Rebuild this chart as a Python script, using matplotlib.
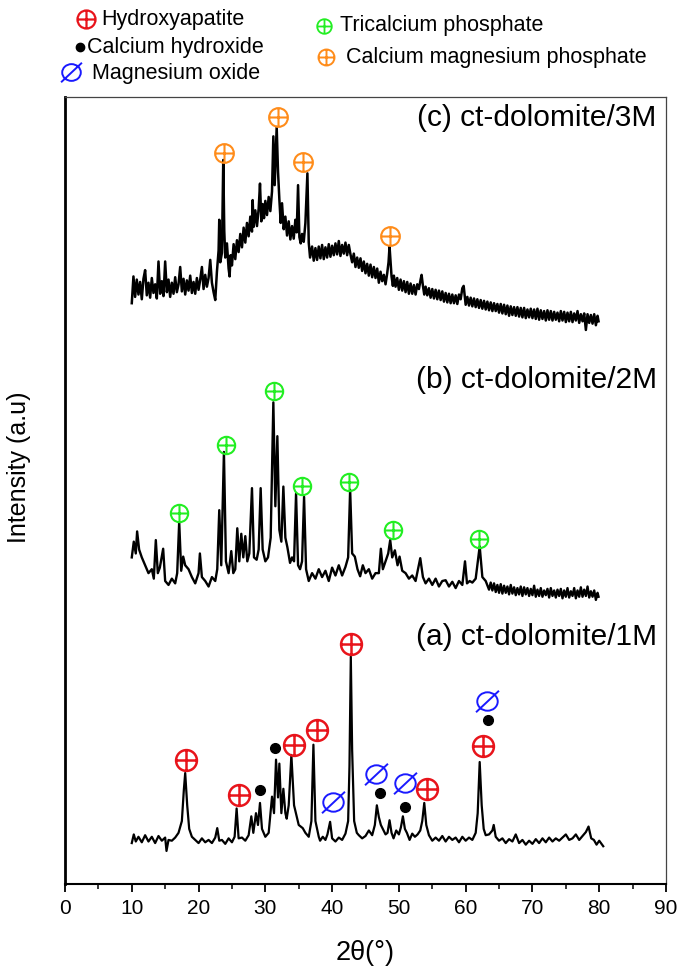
import matplotlib.pyplot as plt
from matplotlib.path import Path
from matplotlib.ticker import MultipleLocator

plt.rcParams['font.family'] = ['Liberation Sans', 'DejaVu Sans']

# ---- data (2theta in degrees, intensity in arbitrary units) ----
theta_c = [10.0, 10.25, 10.5, 10.75, 11.0, 11.25, 11.5, 11.75, 12.0, 12.25, 12.5, 12.75, 13.0, 13.25,
           13.5, 13.75, 14.0, 14.25, 14.5, 14.75, 15.0, 15.25, 15.5, 15.75, 16.0, 16.25, 16.5, 16.75,
           17.0, 17.25, 17.5, 17.75, 18.0, 18.25, 18.5, 18.75, 19.0, 19.25, 19.5, 19.75, 20.0, 20.25,
           20.5, 20.75, 21.0, 21.25, 21.5, 21.75, 22.0, 22.25, 22.5, 22.75, 23.0, 23.1, 23.25, 23.5,
           23.7, 23.85, 24.0, 24.25, 24.5, 24.65, 24.8, 25.0, 25.25, 25.5, 25.75, 26.0, 26.25, 26.5,
           26.75, 27.0, 27.25, 27.5, 27.75, 28.0, 28.1, 28.25, 28.5, 28.75, 29.0, 29.2, 29.4, 29.6,
           29.8, 30.0, 30.25, 30.5, 30.75, 31.0, 31.2, 31.4, 31.7, 31.9, 32.1, 32.3, 32.5, 32.75,
           33.0, 33.25, 33.5, 33.75, 34.0, 34.25, 34.5, 34.7, 34.9, 35.1, 35.3, 35.5, 35.75, 36.0,
           36.3, 36.5, 36.7, 37.0, 37.25, 37.5, 37.75, 38.0, 38.25, 38.5, 38.75, 39.0, 39.25, 39.5,
           39.75, 40.0, 40.25, 40.5, 40.75, 41.0, 41.25, 41.5, 41.75, 42.0, 42.25, 42.5, 42.75, 43.0,
           43.25, 43.5, 43.75, 44.0, 44.25, 44.5, 44.75, 45.0, 45.25, 45.5, 45.75, 46.0, 46.25, 46.5,
           46.75, 47.0, 47.25, 47.5, 47.75, 48.0, 48.25, 48.45, 48.6, 48.75, 48.9, 49.1, 49.25, 49.5,
           49.75, 50.0, 50.25, 50.5, 50.75, 51.0, 51.25, 51.5, 51.75, 52.0, 52.25, 52.5, 52.75, 53.0,
           53.25, 53.4, 53.6, 53.8, 54.0, 54.25, 54.5, 54.75, 55.0, 55.25, 55.5, 55.75, 56.0, 56.25,
           56.5, 56.75, 57.0, 57.25, 57.5, 57.75, 58.0, 58.25, 58.5, 58.75, 59.0, 59.25, 59.5, 59.7,
           59.9, 60.0, 60.25, 60.5, 60.75, 61.0, 61.25, 61.5, 61.75, 62.0, 62.25, 62.5, 62.75, 63.0,
           63.25, 63.5, 63.75, 64.0, 64.25, 64.5, 64.75, 65.0, 65.25, 65.5, 65.75, 66.0, 66.25, 66.5,
           66.75, 67.0, 67.25, 67.5, 67.75, 68.0, 68.25, 68.5, 68.75, 69.0, 69.25, 69.5, 69.75, 70.0,
           70.25, 70.5, 70.75, 71.0, 71.25, 71.5, 71.75, 72.0, 72.25, 72.5, 72.75, 73.0, 73.25, 73.5,
           73.75, 74.0, 74.25, 74.5, 74.75, 75.0, 75.25, 75.5, 75.75, 76.0, 76.25, 76.5, 76.75, 77.0,
           77.25, 77.5, 77.75, 78.0, 78.25, 78.5, 78.75, 79.0, 79.25, 79.5, 79.75, 79.9]
int_c = [73.8, 77.2, 74.6, 76.8, 74.9, 76.5, 74.3, 76.9, 78.0, 74.8, 76.4, 74.5, 77.0, 75.1,
         76.2, 74.4, 79.1, 75.0, 76.6, 74.7, 79.1, 75.2, 76.8, 74.6, 76.4, 75.0, 77.1, 75.2,
         76.2, 78.4, 75.3, 76.9, 74.9, 76.7, 75.4, 77.3, 75.1, 76.5, 75.0, 77.0, 75.5, 76.8,
         78.4, 75.6, 77.4, 75.9, 77.0, 79.3, 76.4, 75.2, 74.2, 77.8, 80.5, 84.4, 79.0, 80.2,
         92.0, 83.0, 79.6, 81.4, 78.2, 77.2, 79.9, 78.6, 81.3, 79.4, 81.8, 80.3, 82.6, 80.9,
         83.4, 81.5, 84.0, 82.3, 84.8, 82.9, 86.9, 83.5, 85.6, 83.6, 85.8, 89.0, 84.2, 86.4,
         84.6, 86.8, 85.0, 87.3, 85.5, 88.0, 95.0, 88.8, 96.2, 90.5, 87.0, 84.0, 86.5, 83.2,
         84.8, 82.4, 84.2, 81.9, 83.6, 82.0, 84.4, 82.8, 88.8, 82.2, 81.4, 82.6, 81.6, 84.0,
         90.3, 81.5, 79.6, 81.0, 79.2, 80.8, 79.3, 81.0, 79.5, 81.2, 79.4, 80.9, 79.6, 81.3,
         79.7, 81.1, 79.9, 81.4, 80.0, 81.7, 79.8, 81.2, 80.1, 81.5, 79.9, 81.2, 80.0, 79.0,
         80.1, 78.4, 79.6, 78.3, 79.5, 77.9, 79.1, 77.6, 78.8, 77.3, 78.7, 77.1, 78.4, 77.0,
         78.2, 76.4, 77.8, 76.6, 77.4, 76.2, 77.6, 79.0, 81.0, 79.2, 77.2, 76.0, 77.3, 75.9,
         77.0, 75.5, 76.8, 75.4, 76.6, 75.2, 76.5, 75.0, 76.3, 75.0, 76.1, 74.9, 76.2, 75.6,
         76.8, 77.4, 76.0, 74.9, 75.9, 74.8, 75.7, 74.5, 75.6, 74.4, 75.5, 74.3, 75.4, 74.2,
         75.3, 74.0, 75.1, 73.9, 75.0, 73.8, 74.9, 73.8, 74.8, 73.7, 74.9, 74.3, 75.7, 76.0,
         74.4, 73.6, 74.6, 73.5, 74.5, 73.4, 74.4, 73.3, 74.3, 73.2, 74.2, 73.1, 74.1, 73.0,
         74.0, 72.9, 73.9, 72.8, 73.8, 72.8, 73.7, 72.6, 73.7, 72.5, 73.6, 72.4, 73.5, 72.2,
         73.4, 72.3, 73.3, 72.2, 73.3, 72.1, 73.2, 72.0, 73.2, 71.9, 73.0, 72.0, 73.1, 71.9,
         73.0, 71.8, 73.1, 71.7, 72.9, 71.8, 72.8, 71.6, 72.9, 71.7, 72.8, 71.6, 72.7, 71.7,
         72.6, 71.5, 72.8, 71.6, 72.7, 71.4, 72.6, 71.5, 72.7, 71.4, 72.5, 71.6, 72.8, 71.3,
         72.4, 71.5, 72.5, 70.4, 72.4, 71.3, 72.3, 71.2, 72.4, 71.0, 72.2, 71.5]

theta_b = [10.0, 10.3, 10.6, 10.8, 11.1, 11.5, 12.0, 12.5, 13.0, 13.3, 13.6, 13.9, 14.2, 14.7, 15.0,
           15.5, 16.0, 16.5, 16.8, 17.1, 17.4, 17.7, 18.0, 18.5, 19.0, 19.5, 20.0, 20.2, 20.5, 21.0,
           21.5, 22.0, 22.5, 22.8, 23.1, 23.4, 23.8, 24.1, 24.5, 24.9, 25.2, 25.5, 25.8, 26.1, 26.4,
           26.7, 27.0, 27.3, 27.6, 28.0, 28.3, 28.7, 29.0, 29.3, 29.6, 30.0, 30.4, 30.8, 31.2, 31.5,
           31.8, 32.1, 32.4, 32.7, 33.0, 33.3, 33.7, 34.0, 34.3, 34.6, 34.9, 35.2, 35.5, 35.8, 36.1,
           36.5, 37.0, 37.5, 38.0, 38.5, 39.0, 39.5, 40.0, 40.5, 41.0, 41.5, 42.0, 42.4, 42.7, 43.0,
           43.4, 43.8, 44.2, 44.6, 45.0, 45.5, 46.0, 46.5, 47.0, 47.3, 47.6, 48.0, 48.4, 48.7, 49.0,
           49.4, 49.8, 50.1, 50.5, 51.0, 51.5, 52.0, 52.5, 53.2, 53.6, 54.0, 54.5, 55.0, 55.5, 56.0,
           56.5, 57.0, 57.5, 58.0, 58.5, 59.0, 59.5, 59.9, 60.2, 60.6, 61.0, 61.5, 62.1, 62.5, 63.0,
           63.5, 63.75, 64.0, 64.25, 64.5, 64.75, 65.0, 65.25, 65.5, 65.75, 66.0, 66.25, 66.5, 66.75,
           67.0, 67.25, 67.5, 67.75, 68.0, 68.25, 68.5, 68.75, 69.0, 69.25, 69.5, 69.75, 70.0, 70.25,
           70.5, 70.75, 71.0, 71.25, 71.5, 71.75, 72.0, 72.25, 72.5, 72.75, 73.0, 73.25, 73.5, 73.75,
           74.0, 74.25, 74.5, 74.75, 75.0, 75.25, 75.5, 75.75, 76.0, 76.25, 76.5, 76.75, 77.0, 77.25,
           77.5, 77.75, 78.0, 78.25, 78.5, 78.75, 79.0, 79.25, 79.5, 79.75, 79.9]
int_b = [41.5, 43.5, 42.0, 44.8, 42.5, 41.5, 40.5, 39.5, 40.0, 38.8, 43.7, 39.5, 40.2, 42.6, 38.5,
         38.0, 38.8, 38.2, 39.5, 46.0, 39.8, 41.6, 40.5, 40.0, 39.0, 38.2, 39.5, 42.0, 39.0, 38.5,
         37.8, 39.0, 38.5, 40.0, 47.5, 40.5, 54.9, 41.0, 39.5, 42.3, 39.5, 40.0, 45.2, 41.0, 44.5,
         41.5, 44.2, 41.0, 42.0, 50.3, 41.5, 41.2, 42.5, 50.3, 42.5, 41.0, 41.5, 44.0, 61.2, 48.0,
         56.9, 45.0, 43.5, 50.5, 44.0, 42.8, 40.8, 41.5, 41.0, 49.6, 40.5, 40.0, 41.0, 49.2, 40.0,
         38.5, 39.5, 38.8, 40.0, 39.0, 39.8, 38.5, 40.2, 39.2, 40.5, 39.2, 40.3, 41.5, 50.1, 42.0,
         41.6, 40.0, 39.1, 40.5, 39.5, 40.0, 38.8, 39.5, 39.5, 42.6, 40.0, 41.0, 42.0, 43.7, 41.5,
         42.4, 40.5, 41.6, 39.8, 39.5, 38.8, 39.2, 38.5, 41.4, 39.0, 38.2, 38.8, 38.0, 38.8, 37.8,
         38.5, 38.6, 37.8, 38.4, 37.6, 38.5, 38.0, 41.0, 38.2, 38.5, 38.3, 38.8, 42.9, 39.0, 38.5,
         37.4, 38.3, 37.3, 38.2, 37.1, 38.0, 37.0, 38.1, 36.9, 37.9, 37.0, 37.8, 36.8, 38.0,
         36.9, 37.7, 36.7, 37.6, 36.8, 37.8, 36.6, 37.7, 36.8, 37.6, 36.6, 37.5, 36.7, 37.9,
         36.5, 37.4, 36.6, 37.6, 36.5, 37.3, 36.7, 37.5, 36.4, 37.6, 36.6, 37.3, 36.4, 37.4,
         36.6, 37.5, 36.3, 37.3, 36.5, 37.6, 36.4, 37.2, 36.6, 37.6, 36.3, 37.3, 36.5, 37.7,
         36.5, 37.4, 36.6, 37.8, 36.4, 37.2, 36.5, 37.3, 36.1, 37.0, 36.5]

theta_a = [10.0, 10.3, 10.6, 11.0, 11.5, 12.0, 12.5, 13.0, 13.5, 14.0, 14.5, 15.0, 15.2, 15.5, 16.0,
           16.5, 17.0, 17.5, 17.8, 18.0, 18.3, 18.6, 19.0, 19.5, 20.0, 20.5, 21.0, 21.5, 22.0, 22.5,
           22.8, 23.1, 23.5, 24.0, 24.5, 25.0, 25.4, 25.7, 26.0, 26.5, 27.0, 27.5, 27.9, 28.2, 28.6,
           28.9, 29.2, 29.5, 30.0, 30.5, 31.0, 31.3, 31.6, 31.9, 32.1, 32.4, 32.7, 33.0, 33.2, 33.5,
           33.9, 34.3, 34.7, 35.0, 35.6, 36.0, 36.5, 36.9, 37.2, 37.5, 38.0, 38.2, 38.6, 39.0, 39.3,
           39.7, 40.0, 40.5, 41.0, 41.5, 42.0, 42.4, 42.6, 42.8, 43.0, 43.3, 43.7, 44.0, 44.5, 45.0,
           45.5, 46.0, 46.4, 46.7, 47.0, 47.3, 47.7, 48.0, 48.3, 48.6, 48.9, 49.2, 49.6, 50.0, 50.3,
           50.6, 50.9, 51.2, 51.6, 52.0, 52.4, 52.8, 53.2, 53.5, 53.8, 54.1, 54.5, 55.0, 55.5, 56.0,
           56.5, 57.0, 57.5, 58.0, 58.5, 59.0, 59.5, 60.0, 60.5, 61.0, 61.5, 61.8, 62.1, 62.4, 62.7,
           63.0, 63.5, 64.0, 64.2, 64.5, 65.0, 65.5, 66.0, 66.5, 67.0, 67.5, 68.0, 68.5, 69.0, 69.5,
           70.0, 70.5, 71.0, 71.5, 72.0, 72.5, 73.0, 73.5, 74.0, 74.5, 75.0, 75.5, 76.0, 76.5, 77.0,
           77.5, 78.0, 78.4, 78.8, 79.2, 79.6, 80.0, 80.6]
int_a = [5.2, 6.3, 5.4, 6.0, 5.3, 6.2, 5.4, 6.0, 5.2, 6.1, 5.5, 5.9, 4.2, 5.6, 5.5,
         5.9, 6.5, 8.0, 12.0, 14.1, 10.0, 7.0, 6.0, 5.6, 5.2, 5.8, 5.3, 5.6, 5.2, 5.9,
         7.1, 5.5, 5.6, 5.1, 5.8, 5.3, 6.0, 9.6, 5.8, 5.9, 5.5, 6.2, 8.6, 6.5, 9.0,
         7.5, 10.3, 7.0, 6.0, 6.5, 11.1, 9.0, 15.8, 11.0, 15.3, 9.0, 12.1, 9.0, 8.3, 10.0,
         16.4, 10.0, 8.6, 7.5, 7.1, 6.5, 6.0, 8.0, 17.7, 8.0, 6.0, 5.5, 6.0, 5.6, 6.3,
         7.9, 5.8, 5.4, 5.9, 5.6, 6.4, 8.0, 15.0, 28.9, 17.0, 8.0, 6.5, 6.2, 5.8, 6.1,
         6.8, 6.2, 7.5, 10.0, 8.5, 7.5, 6.8, 6.3, 6.5, 8.1, 6.5, 5.8, 6.8, 6.3, 7.2,
         8.6, 7.0, 6.5, 5.6, 6.4, 6.0, 6.3, 6.8, 8.0, 10.3, 7.5, 6.2, 5.5, 5.9, 5.5,
         6.1, 5.4, 6.0, 5.6, 5.9, 5.3, 6.0, 5.5, 5.9, 5.6, 6.5, 9.0, 15.5, 10.0, 7.0,
         6.2, 6.3, 6.8, 7.5, 6.0, 5.5, 5.8, 5.2, 5.7, 5.4, 6.3, 5.2, 5.6, 5.0, 5.5,
         5.1, 5.7, 5.2, 5.8, 5.3, 5.9, 5.4, 5.8, 5.5, 5.9, 6.3, 5.6, 5.8, 6.3, 5.6,
         6.1, 6.6, 7.3, 5.8, 5.6, 5.0, 5.5, 4.8]

# phase markers (2theta, height of the symbol)
hap_x = [18.07, 26.06, 34.3, 37.7, 42.9, 54.2, 62.6]
hap_y = [15.8, 11.3, 17.7, 19.6, 30.5, 12.1, 17.5]
caoh_x = [29.2, 31.4, 47.1, 50.9, 63.4]
caoh_y = [12.0, 17.3, 11.5, 9.8, 20.8]
mgo_x = [40.2, 46.6, 50.9, 63.2]
mgo_y = [10.4, 14.0, 12.8, 23.3]
tcp_x = [17.1, 24.1, 31.3, 35.5, 42.5, 49.1, 62.0]
tcp_y = [47.2, 55.8, 62.6, 50.6, 51.1, 45.0, 43.9]
cmp_x = [23.85, 31.85, 35.7, 48.7]
cmp_y = [92.9, 97.4, 91.7, 82.4]

sample_labels = ['(c) ct-dolomite/3M', '(b) ct-dolomite/2M', '(a) ct-dolomite/1M']
sample_label_y = [97.3, 64.0, 31.4]

phase_names = ['Hydroxyapatite', 'Calcium hydroxide', 'Magnesium oxide',
               'Tricalcium phosphate', 'Calcium magnesium phosphate']

RED = '#e8141b'
BLUE = '#1a1aff'
GREEN = '#22ee22'
ORANGE = '#ff8c1a'

# circle-with-cross and slashed-circle symbols
circ = Path.unit_circle()
cross = Path([(-1, 0), (1, 0), (0, -1), (0, 1)],
             [Path.MOVETO, Path.LINETO, Path.MOVETO, Path.LINETO])
oplus = Path.make_compound_path(circ, cross)
ell = Path(circ.vertices * [1.0, 0.9], circ.codes)
slash = Path([(-1.12, -1.05), (1.12, 1.05)], [Path.MOVETO, Path.LINETO])
oslash = Path.make_compound_path(ell, slash)

fig = plt.figure(figsize=(6.81, 9.67), dpi=100)
ax = fig.add_axes([65 / 681, 1 - 884 / 967, 601 / 681, 787 / 967])

for th, it, lw in [(theta_a, int_a, 1.6), (theta_b, int_b, 1.7), (theta_c, int_c, 1.8)]:
    ax.plot(th, it, color='black', lw=lw)

ax.plot(hap_x, hap_y, ls='none', marker=oplus, ms=15, mfc='none', mec=RED, mew=1.8)
ax.plot(caoh_x, caoh_y, ls='none', marker='o', ms=7, mfc='black', mec='black')
ax.plot(mgo_x, mgo_y, ls='none', marker=oslash, ms=16.5, mfc='none', mec=BLUE, mew=1.4)
ax.plot(tcp_x, tcp_y, ls='none', marker=oplus, ms=12.5, mfc='none', mec=GREEN, mew=1.5)
ax.plot(cmp_x, cmp_y, ls='none', marker=oplus, ms=13.5, mfc='none', mec=ORANGE, mew=1.5)

for lab, yy in zip(sample_labels, sample_label_y):
    ax.text(88.6, yy, lab, ha='right', va='center', fontsize=21.5)

ax.set_xlim(0, 90)
ax.set_ylim(0, 100)
ax.xaxis.set_major_locator(MultipleLocator(10))
ax.xaxis.set_minor_locator(MultipleLocator(5))
ax.tick_params(axis='x', which='major', direction='out', length=6, width=1.3, labelsize=15, pad=5)
ax.tick_params(axis='x', which='minor', direction='out', length=3.5, width=1.1)
ax.set_yticks([])
ax.set_xlabel('2θ(°)', fontsize=19.5, labelpad=16)
ax.set_ylabel('Intensity (a.u)', fontsize=18)
ax.yaxis.set_label_coords(-0.056, 0.53)

ax.spines['left'].set_linewidth(2.0)
ax.spines['bottom'].set_linewidth(1.5)
for side in ['top', 'right']:
    ax.spines[side].set_linewidth(0.9)
    ax.spines[side].set_color('#444444')

# legend drawn in figure pixel space above the axes
lg = fig.add_axes([0, 0, 1, 1])
lg.set_xlim(0, 681)
lg.set_ylim(967, 0)
lg.axis('off')
lg.patch.set_visible(False)

lg.plot(86, 19, marker=oplus, ms=13, mfc='none', mec=RED, mew=1.6)
lg.text(101, 19, phase_names[0], va='center', fontsize=15.5)
lg.plot(80, 47, marker='o', ms=6, mfc='black', mec='black')
lg.text(87, 47, phase_names[1], va='center', fontsize=15.5)
lg.plot(71, 72, marker=oslash, ms=15, mfc='none', mec=BLUE, mew=1.4)
lg.text(92, 73, phase_names[2], va='center', fontsize=15.5)
lg.plot(324, 26, marker=oplus, ms=10.5, mfc='none', mec=GREEN, mew=1.3)
lg.text(340, 26, phase_names[3], va='center', fontsize=15.5)
lg.plot(326, 57, marker=oplus, ms=11.5, mfc='none', mec=ORANGE, mew=1.4)
lg.text(346, 57, phase_names[4], va='center', fontsize=15.5)

fig.savefig('out.png', dpi=100)
